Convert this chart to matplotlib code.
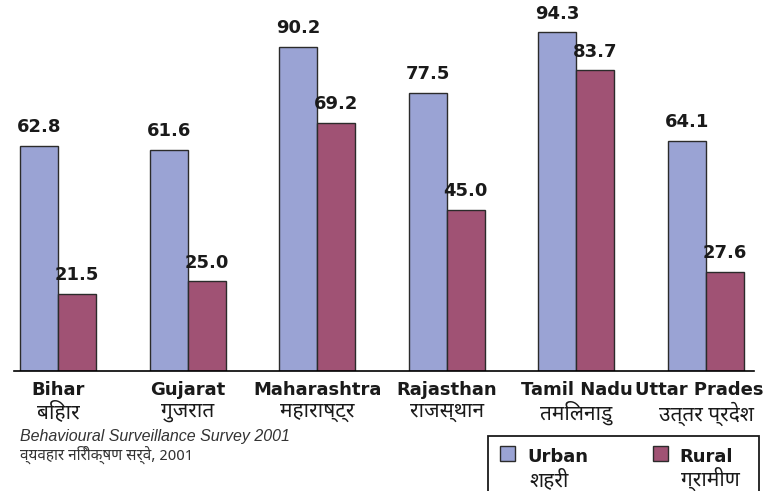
import matplotlib
matplotlib.use("Agg")
import matplotlib.pyplot as plt
import numpy as np
from matplotlib import font_manager
from matplotlib.patches import Rectangle

states_en = ["Bihar", "Gujarat", "Maharashtra", "Rajasthan", "Tamil Nadu", "Uttar Pradesh"]
states_hi = ["बिहार", "गुजरात", "महाराष्ट्र", "राजस्थान", "तमिलनाडु", "उत्तर प्रदेश"]
urban = [62.8, 61.6, 90.2, 77.5, 94.3, 64.1]
rural = [21.5, 25.0, 69.2, 45.0, 83.7, 27.6]
series_en = ["Urban", "Rural"]
series_hi = ["शहरी", "ग्रामीण"]
source_en = "Behavioural Surveillance Survey 2001"
source_hi = "व्यवहार निरीक्षण सर्वे, 2001"

URBAN_C = "#9AA3D4"
RURAL_C = "#A05274"
EDGE = "#2b2b2b"
TXT = "#1a1a1a"

available = {f.name for f in font_manager.fontManager.ttflist}
deva = None
for cand in ["Noto Sans Devanagari", "Hind", "Mukta", "Ek Mukta", "FreeSans"]:
    if cand in available:
        deva = cand
        break
hi_family = [deva, "DejaVu Sans"] if deva else ["DejaVu Sans"]
en_family = ["DejaVu Sans"]
src_family = ["Liberation Sans", "DejaVu Sans"]
plt.rcParams["font.family"] = en_family

fig = plt.figure(figsize=(7.64, 4.91), dpi=100)
ax = fig.add_axes([14/764, (491-371.3)/491, 740/764, 359.5/491])

x = np.arange(len(states_en))
w = 0.293
b1 = ax.bar(x - w/2, urban, w, color=URBAN_C, edgecolor=EDGE, linewidth=1.0)
b2 = ax.bar(x + w/2, rural, w, color=RURAL_C, edgecolor=EDGE, linewidth=1.0)
for bars in (b1, b2):
    ax.bar_label(bars, fmt="%.1f", padding=7, fontsize=13, fontweight="bold",
                 color=TXT, family=en_family)

ax.set_ylim(0, 100)
ax.set_xlim(-0.34, 5.37)
for s in ("left", "right", "top"):
    ax.spines[s].set_visible(False)
ax.spines["bottom"].set_linewidth(1.2)
ax.set_yticks([])
ax.set_xticks(x)
ax.set_xticklabels(states_en, fontsize=13, fontweight="bold", color=TXT)
ax.tick_params(axis="x", length=0, pad=7)
for i, h in enumerate(states_hi):
    ax.annotate(h, xy=(x[i], 0), xycoords="data", xytext=(0, -21.5),
                textcoords="offset points", ha="center", va="top",
                fontsize=15, fontweight="medium", color=TXT, family=hi_family,
                annotation_clip=False)

# source
fig.text(20/764, 1 - 441/491, source_en, fontsize=11.5, style="italic",
         color="#333333", family=src_family)
fig.text(20/764, 1 - 460/491, source_hi, fontsize=11, style="italic",
         color="#333333", family=hi_family)

# legend box
fig.patches.append(Rectangle((488/764, -0.01), 271/764, (491-436)/491 + 0.01,
                             transform=fig.transFigure, facecolor="white",
                             edgecolor=TXT, linewidth=1.3))
for sx, tx, col, en, hi in [(500, 527, URBAN_C, series_en[0], series_hi[0]),
                            (653, 679, RURAL_C, series_en[1], series_hi[1])]:
    fig.patches.append(Rectangle((sx/764, 1 - 461/491), 15/764, 15/491,
                                 transform=fig.transFigure, facecolor=col,
                                 edgecolor=EDGE, linewidth=1.0))
    fig.text(tx/764, 1 - 462/491, en, fontsize=13, fontweight="bold",
             color=TXT, family=en_family)
    fig.text((tx+2)/764, 1 - 486/491, hi, fontsize=15, fontweight="medium",
             color=TXT, family=hi_family)

fig.savefig("out.png", dpi=100)
